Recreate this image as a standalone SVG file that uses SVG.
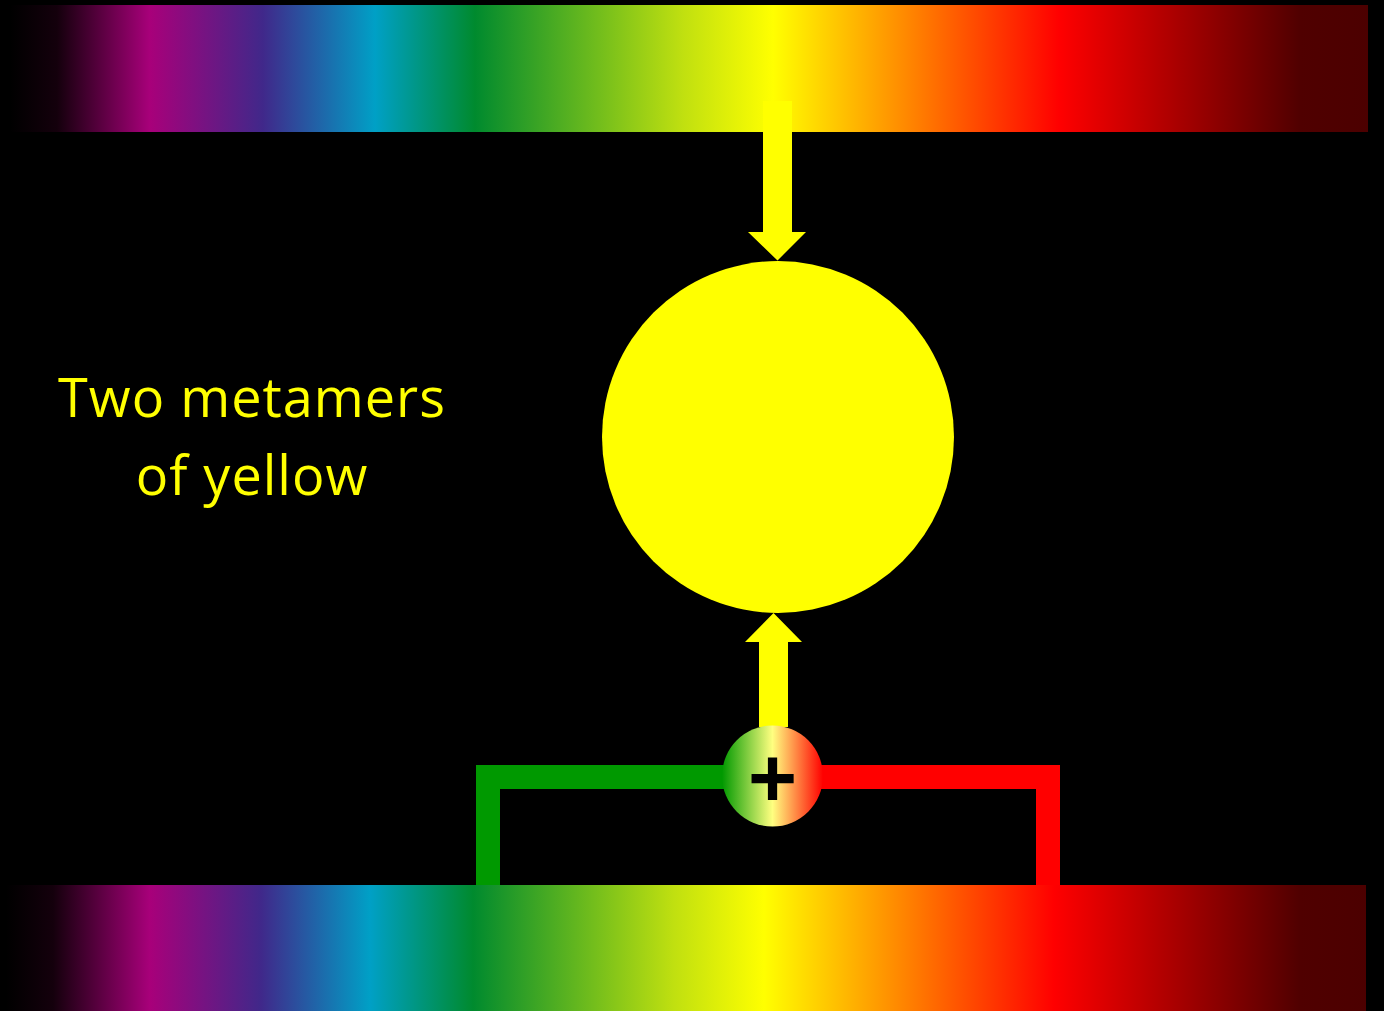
<svg xmlns="http://www.w3.org/2000/svg" width="1384" height="1011" viewBox="0 0 1384 1011">
  <defs>
    <linearGradient id="specTop" gradientUnits="userSpaceOnUse" x1="10" y1="0" x2="1368" y2="0">
      <stop offset="0" stop-color="#000000"/>
      <stop offset="0.0346" stop-color="#14000c"/>
      <stop offset="0.1031" stop-color="#a8007a"/>
      <stop offset="0.1863" stop-color="#40288a"/>
      <stop offset="0.2688" stop-color="#00a0c6"/>
      <stop offset="0.3424" stop-color="#008a2e"/>
      <stop offset="0.4956" stop-color="#c0e010"/>
      <stop offset="0.5619" stop-color="#ffff00"/>
      <stop offset="0.7725" stop-color="#ff0000"/>
      <stop offset="0.9499" stop-color="#500000"/>
      <stop offset="1" stop-color="#4c0000"/>
    </linearGradient>
    <linearGradient id="specBot" gradientUnits="userSpaceOnUse" x1="6" y1="0" x2="1366" y2="0">
      <stop offset="0" stop-color="#000000"/>
      <stop offset="0.0346" stop-color="#14000c"/>
      <stop offset="0.1059" stop-color="#a8007a"/>
      <stop offset="0.1875" stop-color="#40288a"/>
      <stop offset="0.2676" stop-color="#00a0c6"/>
      <stop offset="0.3434" stop-color="#008a2e"/>
      <stop offset="0.4912" stop-color="#c0e010"/>
      <stop offset="0.5574" stop-color="#ffff00"/>
      <stop offset="0.7706" stop-color="#ff0000"/>
      <stop offset="0.9515" stop-color="#500000"/>
      <stop offset="1" stop-color="#4c0000"/>
    </linearGradient>
    <linearGradient id="plusGrad" gradientUnits="userSpaceOnUse" x1="722" y1="0" x2="823" y2="0">
      <stop offset="0" stop-color="#009900"/>
      <stop offset="0.5" stop-color="#ffff80"/>
      <stop offset="1" stop-color="#ff0000"/>
    </linearGradient>
    <style>
      .label { font-family: "Open Sans", "Liberation Sans", sans-serif; font-size: 54px; letter-spacing: 1px; fill: #ffff00; text-anchor: middle; }
      .yellow { fill: #ffff00; }
      .plus { font-family: "Liberation Sans", Arial, sans-serif; font-weight: bold; font-size: 84px; fill: #000000; text-anchor: middle; }
    </style>
  </defs>
  <rect x="0" y="0" width="1384" height="1011" fill="#000000"/>

  <g id="spectrum-top">
    <rect x="10" y="5" width="1358" height="127" fill="url(#specTop)"/>
  </g>
  <g id="spectrum-bottom">
    <rect x="6" y="885" width="1360" height="126" fill="url(#specBot)"/>
  </g>

  <g id="connectors">
    <path class="yellow" d="M763 101 H792 V232 H806 L777.5 260.5 L748 232 H763 Z"/>
    <path class="yellow" d="M759 727 V642 H745 L773.5 613 L802 642 H788 V727 Z"/>
    <path d="M488 885 V777 H735" fill="none" stroke="#009900" stroke-width="24"/>
    <path d="M810 777 H1048 V885" fill="none" stroke="#ff0000" stroke-width="24"/>
  </g>

  <g id="yellow-light">
    <circle cx="778" cy="437" r="176" class="yellow"/>
  </g>

  <g id="adder">
    <circle cx="772.5" cy="776" r="50.5" fill="url(#plusGrad)"/>
    <text x="772.5" y="807" class="plus">+</text>
  </g>

  <g id="caption">
    <text x="252" y="417" class="label">Two metamers</text>
    <text x="252" y="495" class="label">of yellow</text>
  </g>
</svg>
